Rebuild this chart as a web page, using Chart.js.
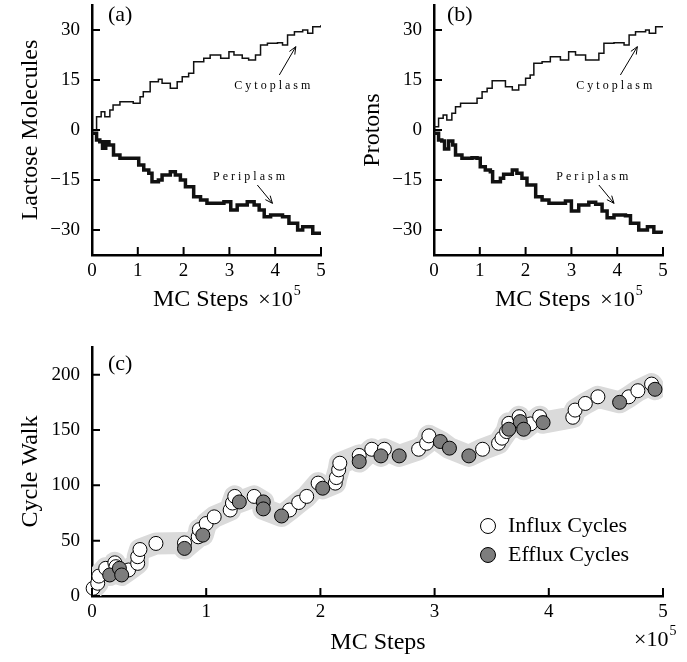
<!DOCTYPE html>
<html>
<head>
<meta charset="utf-8">
<script src="https://cdn.jsdelivr.net/npm/chart.js@4.4.1/dist/chart.umd.min.js"></script>
<style>
  html, body { margin: 0; padding: 0; background: #fff; }
  #wrap { position: relative; width: 687px; height: 662px; }
  .box { position: absolute; }
</style>
</head>
<body>
<div id="wrap">
  <div class="box" style="left:0;top:0;width:342px;height:335px"><canvas id="chartA"></canvas></div>
  <div class="box" style="left:342px;top:0;width:345px;height:335px"><canvas id="chartB"></canvas></div>
  <div class="box" style="left:0;top:330px;width:687px;height:332px"><canvas id="chartC"></canvas></div>
</div>
<script>
// x in units of 1e5 MC steps
const xTicks = [0, 1, 2, 3, 4, 5];
const yTicksAB = [-30, -15, 0, 15, 30];
const yTicksC = [0, 50, 100, 150, 200];

// (a) lactose molecules
const cytoA_x = [0, 0.1, 0.2, 0.28, 0.39, 0.46, 0.61, 0.83, 0.9, 1.05, 1.12, 1.27, 1.45, 1.53, 1.71, 1.86, 1.97, 2.11, 2.22, 2.44, 2.58, 2.81, 2.99, 3.1, 3.28, 3.42, 3.57, 3.68, 3.83, 4.05, 4.16, 4.27, 4.42, 4.6, 4.71, 4.82, 5.0];
const cytoA_y = [0, 4, 5.5, 4, 6, 7.5, 8.5, 8.5, 8, 10, 11.5, 14.5, 15.2, 14, 12.5, 14.5, 16, 17, 20.5, 21.5, 22.5, 21.5, 23.5, 22.5, 21.5, 21, 22.5, 25.5, 26, 26.2, 25.5, 28.5, 29.5, 30, 29, 31, 31.5];
const periA_x = [0, 0.1, 0.17, 0.23, 0.3, 0.37, 0.47, 0.61, 0.9, 1.02, 1.13, 1.24, 1.31, 1.45, 1.53, 1.71, 1.82, 1.93, 2.04, 2.15, 2.22, 2.37, 2.51, 2.73, 2.88, 3.03, 3.17, 3.39, 3.54, 3.65, 3.76, 3.9, 4.16, 4.3, 4.49, 4.6, 4.82, 5.0];
const periA_y = [-1, -3, -3.5, -5.5, -3.5, -4.5, -7.5, -8.5, -8.5, -10.5, -12, -13, -15.5, -15, -13.5, -12.5, -13.5, -15, -17, -17, -20, -21, -22, -22, -21.5, -24, -22.5, -21.5, -22.5, -24, -26, -25.5, -26, -28, -30, -29, -31, -31];

// (b) protons
const cytoB_x = [0, 0.1, 0.2, 0.28, 0.39, 0.47, 0.58, 0.76, 0.87, 0.94, 1.05, 1.16, 1.27, 1.49, 1.56, 1.71, 1.85, 2.0, 2.1, 2.18, 2.36, 2.54, 2.76, 2.94, 3.09, 3.31, 3.46, 3.6, 3.71, 3.93, 4.15, 4.26, 4.4, 4.62, 4.7, 4.84, 5.0];
const cytoB_y = [1, 3.5, 4.5, 3, 5, 7, 8, 8, 8, 9.5, 11.5, 12.5, 14.8, 14.8, 13, 12, 13.5, 15.5, 16.5, 20, 20.5, 22, 21, 23.5, 22.5, 21, 21, 23, 26, 26.2, 25.5, 28.5, 29.5, 30, 29, 31, 31];
const periB_x = [0, 0.1, 0.17, 0.23, 0.32, 0.41, 0.47, 0.61, 0.83, 0.94, 1.01, 1.12, 1.23, 1.28, 1.45, 1.52, 1.71, 1.81, 1.92, 2.03, 2.14, 2.22, 2.36, 2.51, 2.73, 2.87, 3.0, 3.16, 3.38, 3.53, 3.67, 3.78, 3.93, 4.18, 4.29, 4.47, 4.66, 4.8, 4.99];
const periB_y = [-1, -3, -3.3, -5.7, -3.3, -4.5, -7.5, -8.5, -8.3, -8.5, -11, -12, -12.5, -15.5, -14.5, -13.3, -12, -13, -14.5, -16.5, -16.5, -20, -21, -22, -22, -21.3, -24.3, -22.5, -21.7, -22.3, -24.3, -26.3, -25.5, -25.7, -28, -30, -29, -30.7, -31];

// (c) cycle walk
const influx_x = [0.01, 0.05, 0.06, 0.12, 0.2, 0.21, 0.32, 0.4, 0.4, 0.42, 0.56, 0.81, 0.93, 0.94, 1.0, 1.07, 1.21, 1.23, 1.25, 1.42, 1.73, 1.81, 1.88, 1.98, 2.13, 2.14, 2.16, 2.17, 2.34, 2.45, 2.56, 2.86, 2.93, 2.95, 3.42, 3.56, 3.59, 3.63, 3.65, 3.74, 3.84, 3.92, 4.21, 4.23, 4.32, 4.43, 4.70, 4.78, 4.9];
const influx_y = [7, 11.5, 18, 25, 30, 26.5, 23.5, 29.5, 35.5, 42, 47.5, 48, 53.5, 60, 65.5, 71.5, 77.7, 84, 90, 90, 77.7, 84.5, 90, 102, 102, 107, 114, 120, 127, 132.6, 132.6, 132.6, 138, 144.7, 132.6, 138, 142.6, 148.6, 156, 162, 155.5, 162, 161.5, 168, 174, 180, 180, 185.5, 191.5];
const efflux_x = [0.155, 0.24, 0.26, 0.81, 0.97, 1.29, 1.5, 1.5, 1.66, 2.02, 2.34, 2.53, 2.69, 3.05, 3.13, 3.30, 3.65, 3.75, 3.78, 3.95, 4.62, 4.93];
const efflux_y = [19, 25, 19, 43, 55, 85, 85, 78.7, 72.3, 97.4, 121.5, 126.6, 126.6, 139.6, 133.6, 126.6, 150.7, 157.6, 150.7, 156.7, 175, 186.8];

Chart.defaults.font.family = '"Liberation Serif", "Times New Roman", serif';
Chart.defaults.color = '#000';

const pts = (xs, ys) => xs.map((x, i) => ({ x: x, y: ys[i] }));
const minus = v => String(v).replace('-', '\u2212');

function drawArrow(ctx, x1, y1, x2, y2) {
  const a = Math.atan2(y2 - y1, x2 - x1), h = 8;
  ctx.beginPath();
  ctx.moveTo(x1, y1); ctx.lineTo(x2, y2);
  ctx.moveTo(x2 - h * Math.cos(a - 0.4), y2 - h * Math.sin(a - 0.4));
  ctx.lineTo(x2, y2);
  ctx.lineTo(x2 - h * Math.cos(a + 0.4), y2 - h * Math.sin(a + 0.4));
  ctx.stroke();
}

// inward ticks, panel letter, x title, arrow notes, legend
const decor = {
  id: 'decor',
  afterDraw(chart, args, o) {
    const ctx = chart.ctx, xs = chart.scales.x, ys = chart.scales.y, area = chart.chartArea;
    ctx.save();
    ctx.strokeStyle = '#000';
    ctx.lineWidth = 2;
    ctx.beginPath();
    xs.ticks.forEach(t => {
      const p = xs.getPixelForValue(t.value);
      ctx.moveTo(p, area.bottom); ctx.lineTo(p, area.bottom - 8);
    });
    ys.ticks.forEach(t => {
      const p = ys.getPixelForValue(t.value);
      ctx.moveTo(area.left, p); ctx.lineTo(area.left + 8, p);
    });
    ctx.stroke();

    ctx.fillStyle = '#000';
    ctx.textBaseline = 'middle';
    ctx.font = '22px "Liberation Serif"';
    ctx.fillText(o.label, o.labelX, o.labelY);

    // x axis title with x10^5
    const t = o.xtitle;
    ctx.font = '24px "Liberation Serif"';
    const w = ctx.measureText(t.text).width;
    const left = t.center ? t.x - w / 2 : t.x;
    ctx.fillText(t.text, left, t.y);
    ctx.font = '22px "Liberation Serif"';
    const sx = t.supX != null ? t.supX : left + w + 10;
    ctx.fillText('\u00d710', sx, t.supY);
    const w2 = ctx.measureText('\u00d710').width;
    ctx.font = '14px "Liberation Serif"';
    ctx.fillText('5', sx + w2 + 1, t.supY - 9);

    (o.notes || []).forEach(n => {
      ctx.font = '12px "Liberation Serif"';
      ctx.letterSpacing = '3px';
      ctx.textAlign = 'center';
      ctx.fillText(n.text, xs.getPixelForValue(n.x), ys.getPixelForValue(n.y));
      ctx.letterSpacing = '0px';
      ctx.lineWidth = 1;
      drawArrow(ctx, xs.getPixelForValue(n.from[0]), ys.getPixelForValue(n.from[1]),
        xs.getPixelForValue(n.to[0]), ys.getPixelForValue(n.to[1]));
    });
    ctx.textAlign = 'left';

    if (o.legend) {
      let y = o.legend.y;
      chart.data.datasets.filter(d => d.label).forEach(d => {
        ctx.beginPath();
        ctx.arc(o.legend.x, y, 7.5, 0, Math.PI * 2);
        ctx.fillStyle = d.backgroundColor;
        ctx.fill();
        ctx.lineWidth = 1;
        ctx.strokeStyle = '#000';
        ctx.stroke();
        ctx.fillStyle = '#000';
        ctx.font = '22px "Liberation Serif"';
        ctx.fillText(d.label, o.legend.x + 20, y);
        y += 29;
      });
    }
    ctx.restore();
  }
};

function xScale(h) {
  return {
    type: 'linear', min: 0, max: 5,
    afterBuildTicks: s => { s.ticks = xTicks.map(v => ({ value: v })); },
    afterFit: s => { s.height = h; s.paddingLeft = 0; s.paddingRight = 0; },
    grid: { display: false, drawTicks: false },
    border: { display: true, width: 2.5, color: '#000' },
    ticks: { padding: 5, autoSkip: false, maxRotation: 0, font: { size: 19 }, color: '#000' }
  };
}

function yScale(min, max, tickVals, title) {
  return {
    type: 'linear', min: min, max: max,
    afterBuildTicks: s => { s.ticks = tickVals.map(v => ({ value: v })); },
    afterFit: s => { s.width = 92; s.paddingTop = 0; s.paddingBottom = 0; },
    grid: { display: false, drawTicks: false },
    border: { display: true, width: 2.5, color: '#000' },
    title: { display: true, text: title, font: { size: 24 }, color: '#000', padding: { top: 16, bottom: 0 } },
    ticks: { padding: 12, autoSkip: false, font: { size: 19 }, color: '#000', callback: minus }
  };
}

function makeWalk(id, cyX, cyY, peX, peY, yTitle, decorOpts, padRight) {
  return new Chart(id, {
    type: 'line',
    data: {
      datasets: [
        { data: pts(cyX, cyY), stepped: true, borderColor: '#111', borderWidth: 1.5, pointRadius: 0, fill: false },
        { data: pts(peX, peY), stepped: true, borderColor: '#111', borderWidth: 3.5, pointRadius: 0, fill: false }
      ]
    },
    options: {
      responsive: true, maintainAspectRatio: false, animation: false,
      layout: { padding: { top: 5, right: padRight, left: 0, bottom: 0 } },
      plugins: { legend: { display: false }, tooltip: { enabled: false }, decor: decorOpts },
      scales: { x: xScale(80), y: yScale(-37.5, 37.5, yTicksAB, yTitle) }
    },
    plugins: [decor]
  });
}

makeWalk('chartA', cytoA_x, cytoA_y, periA_x, periA_y, 'Lactose Molecules', {
  label: '(a)', labelX: 108, labelY: 15,
  xtitle: { text: 'MC Steps', x: 153, y: 300, supY: 300 },
  notes: [
    { text: 'Cytoplasm', x: 3.97, y: 13.2, from: [4.09, 16.5], to: [4.45, 25] },
    { text: 'Periplasm', x: 3.46, y: -14.1, from: [3.61, -16.5], to: [3.94, -22] }
  ]
}, 21);

makeWalk('chartB', cytoB_x, cytoB_y, periB_x, periB_y, 'Protons', {
  label: '(b)', labelX: 105, labelY: 15,
  xtitle: { text: 'MC Steps', x: 153, y: 300, supY: 300 },
  notes: [
    { text: 'Cytoplasm', x: 3.97, y: 13.2, from: [4.07, 16.5], to: [4.44, 25] },
    { text: 'Periplasm', x: 3.49, y: -14.1, from: [3.6, -16.5], to: [3.93, -22] }
  ]
}, 24);

const walk = pts(influx_x.concat(efflux_x), influx_y.concat(efflux_y)).sort((a, b) => a.x - b.x);

new Chart('chartC', {
  type: 'scatter',
  data: {
    datasets: [
      { label: 'Influx Cycles', data: pts(influx_x, influx_y), backgroundColor: '#fff', borderColor: '#000',
        borderWidth: 1, pointRadius: 7, order: 1, clip: false },
      { label: 'Efflux Cycles', data: pts(efflux_x, efflux_y), backgroundColor: '#7d7d7d', borderColor: '#000',
        borderWidth: 1, pointRadius: 7, order: 0, clip: false },
      { data: walk, showLine: true, borderColor: '#dadada', borderWidth: 22, borderJoinStyle: 'round',
        borderCapStyle: 'round', pointRadius: 0, order: 2 }
    ]
  },
  options: {
    responsive: true, maintainAspectRatio: false, animation: false,
    layout: { padding: { top: 17, right: 24, left: 0, bottom: 0 } },
    plugins: {
      legend: { display: false }, tooltip: { enabled: false },
      decor: {
        label: '(c)', labelX: 108, labelY: 34,
        xtitle: { text: 'MC Steps', x: 378, y: 313, center: true, supX: 634, supY: 310 },
        legend: { x: 488, y: 196 }
      }
    },
    scales: { x: xScale(66), y: yScale(0, 225, yTicksC, 'Cycle Walk') }
  },
  plugins: [decor]
});
</script>
</body>
</html>
